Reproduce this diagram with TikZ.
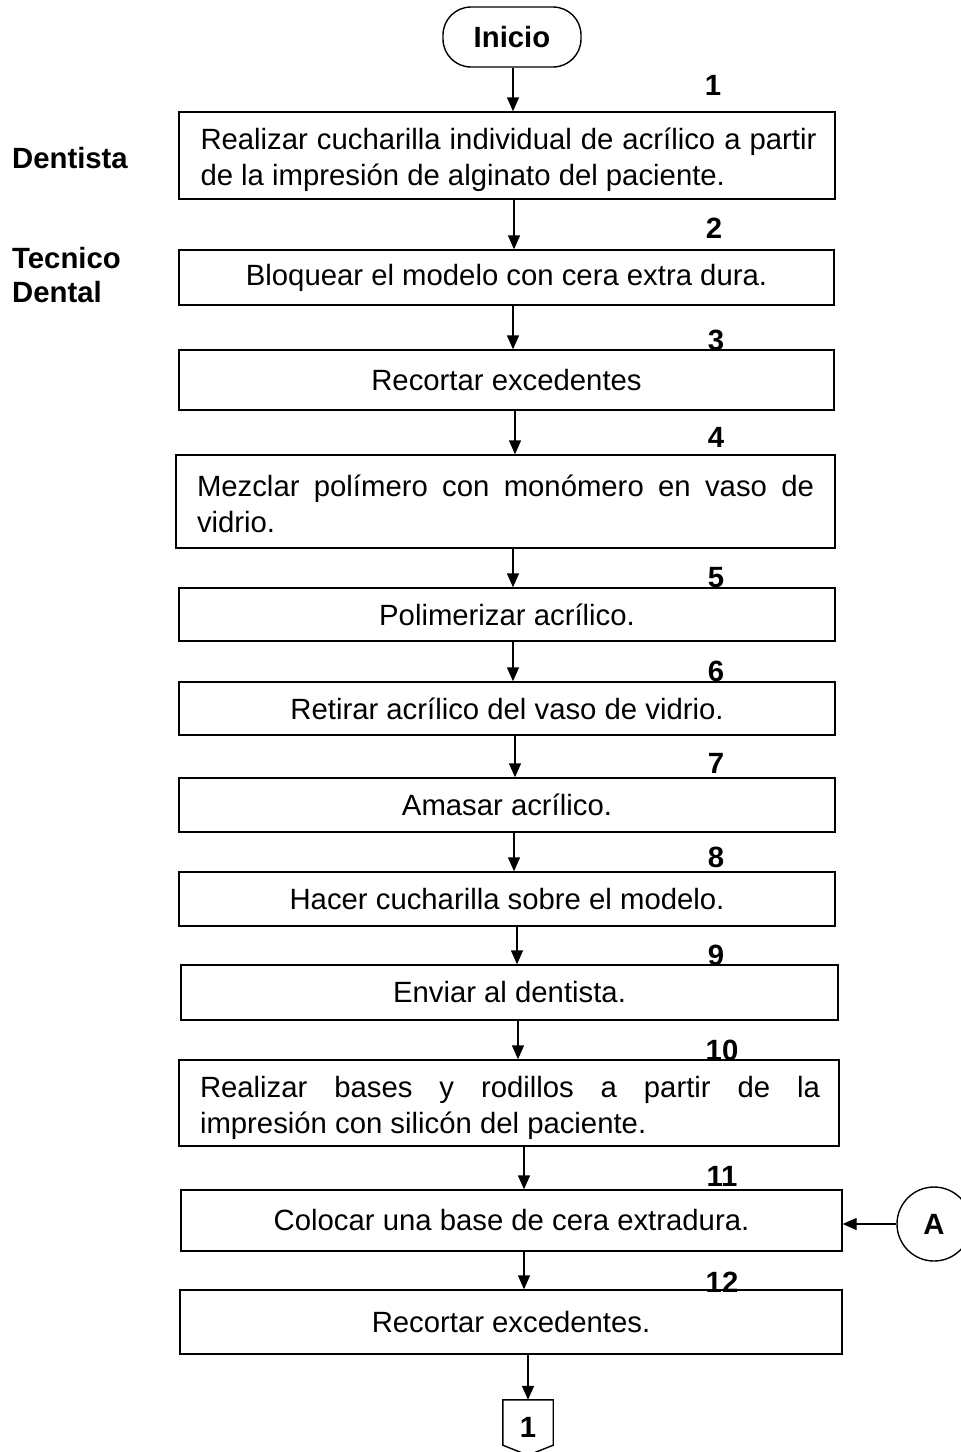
\documentclass[tikz,border=0pt]{standalone}
\usepackage{fontspec}
\setmainfont{Liberation Sans}
\usetikzlibrary{arrows.meta,calc}
\newcommand\fsz{\fontsize{29.3}{36}\selectfont\hyphenpenalty=10000\exhyphenpenalty=10000\tolerance=10000}
\begin{document}
\begin{tikzpicture}[x=1pt,y=-1pt,
  box/.style={draw,line width=1.4pt,inner sep=0pt,font=\fsz},
  jtext/.style={inner sep=0pt,font=\fsz,align=justify},
  num/.style={font=\fsz\bfseries,inner sep=0pt},
  lane/.style={font=\fontsize{29.3}{34}\selectfont\bfseries,inner sep=0pt,anchor=west,align=left},
  arr/.style={line width=1.4pt,-{Triangle[length=14pt,width=12pt]}}]
\useasboundingbox (0,0) rectangle (961,1452);

% start
\node[box,rounded corners=28pt,minimum width=138pt,minimum height=60pt,font=\fsz\bfseries] (ini) at (512,37) {Inicio};

% lanes
\node[lane] (l1) at (12,158) {Dentista};
\node[lane] (l2) at (12,275) {Tecnico\\Dental};

% boxes
\node[box,minimum width=656pt,minimum height=87pt] (b1) at (507,155.5) {};
\node[jtext,text width=616pt] (t1) at (508.5,160)
  {Realizar cucharilla individual de acrílico a partir de la impresión de alginato del paciente.};
\node[box,minimum width=655pt,minimum height=55pt] (b2) at (506.5,277.5) {Bloquear el modelo con cera extra dura.};
\node[box,minimum width=655pt,minimum height=60pt] (b3) at (506.5,380) {Recortar excedentes};
\node[box,minimum width=659pt,minimum height=93pt] (b4) at (505.5,501.5) {};
\node[jtext,text width=617pt] (t4) at (505.5,504)
  {Mezclar polímero con monómero en vaso de vidrio.};
\node[box,minimum width=656pt,minimum height=53pt] (b5) at (507,614.5) {Polimerizar acrílico.};
\node[box,minimum width=656pt,minimum height=53pt] (b6) at (507,708.5) {Retirar acrílico del vaso de vidrio.};
\node[box,minimum width=656pt,minimum height=54pt] (b7) at (507,805) {Amasar acrílico.};
\node[box,minimum width=656pt,minimum height=54pt] (b8) at (507,899) {Hacer cucharilla sobre el modelo.};
\node[box,minimum width=657pt,minimum height=55pt] (b9) at (509.5,992.5) {Enviar al dentista.};
\node[box,minimum width=660pt,minimum height=86pt] (b10) at (509,1103) {};
\node[jtext,text width=620pt] (t10) at (510,1108)
  {Realizar bases y rodillos a partir de la\linebreak impresión con silicón del paciente.};
\node[box,minimum width=661pt,minimum height=61pt] (b11) at (511.5,1220.5) {Colocar una base de cera extradura.};
\node[box,minimum width=662pt,minimum height=64pt] (b12) at (511,1322) {Recortar excedentes.};

% step numbers
\node[num] (n1) at (713,85) {1};
\node[num] (n2) at (714,228) {2};
\node[num] (n3) at (716,340) {3};
\node[num] (n4) at (716,437) {4};
\node[num] (n5) at (716,578) {5};
\node[num] (n6) at (716,671) {6};
\node[num] (n7) at (716,763) {7};
\node[num] (n8) at (716,857) {8};
\node[num] (n9) at (716,955) {9};
\node[num] (n10) at (722,1050) {10};
\node[num] (n11) at (722,1176) {11};
\node[num] (n12) at (722,1282) {12};

% connector A
\node[draw,circle,line width=1.4pt,minimum size=74pt,inner sep=0pt,font=\fsz\bfseries] (A) at (934,1224) {A};

% off-page connector
\node[minimum width=50pt,minimum height=55pt,inner sep=0pt,font=\fsz\bfseries] (pg) at (528,1427.5) {1};
\draw[line width=1.4pt] (pg.north west) -- (pg.north east) -- ($(pg.south east)+(0,-10)$)
  -- (pg.south) -- ($(pg.south west)+(0,-10)$) -- cycle;

% arrows
\draw[arr] (513,0 |- ini.south) -- (513,0 |- b1.north);
\draw[arr] (514,0 |- b1.south) -- (514,0 |- b2.north);
\draw[arr] (513,0 |- b2.south) -- (513,0 |- b3.north);
\draw[arr] (515,0 |- b3.south) -- (515,0 |- b4.north);
\draw[arr] (513,0 |- b4.south) -- (513,0 |- b5.north);
\draw[arr] (513,0 |- b5.south) -- (513,0 |- b6.north);
\draw[arr] (515,0 |- b6.south) -- (515,0 |- b7.north);
\draw[arr] (514,0 |- b7.south) -- (514,0 |- b8.north);
\draw[arr] (517,0 |- b8.south) -- (517,0 |- b9.north);
\draw[arr] (518,0 |- b9.south) -- (518,0 |- b10.north);
\draw[arr] (524,0 |- b10.south) -- (524,0 |- b11.north);
\draw[arr] (524,0 |- b11.south) -- (524,0 |- b12.north);
\draw[arr] (528,0 |- b12.south) -- (pg.north);
\draw[arr] (A.west) -- (A.west -| b11.east);
\end{tikzpicture}
\end{document}
